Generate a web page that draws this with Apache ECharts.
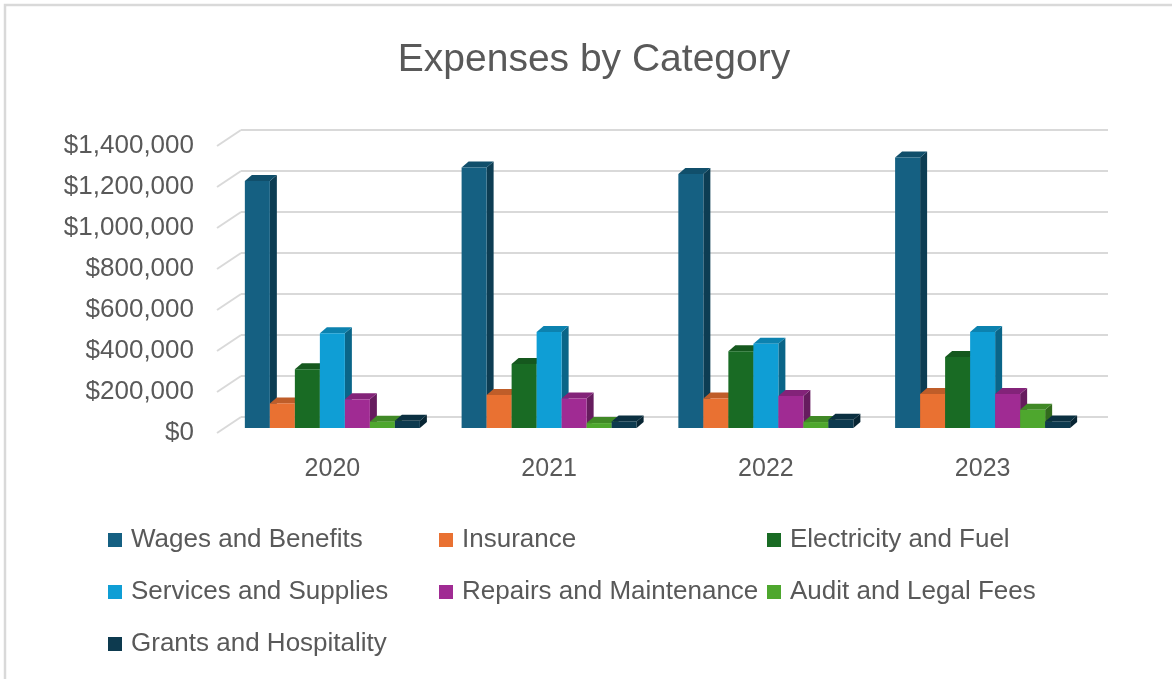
<!DOCTYPE html>
<html>
<head>
<meta charset="utf-8">
<script src="https://cdn.jsdelivr.net/npm/echarts@6/dist/echarts.min.js"></script>
<style>
  html, body { margin: 0; padding: 0; background: #ffffff; }
  #chart { width: 1172px; height: 679px; }
</style>
</head>
<body>
<div id="chart"></div>
<script>
// Yearly expenses by category
const years = ['2020', '2021', '2022', '2023'];
const seriesNames = [
  'Wages and Benefits', 'Insurance', 'Electricity and Fuel',
  'Services and Supplies', 'Repairs and Maintenance', 'Audit and Legal Fees',
  'Grants and Hospitality'
];
const wagesAndBenefits = [1205000, 1271000, 1239000, 1320000];
const insurance = [120000, 161000, 144000, 166000];
const electricityAndFuel = [286000, 312000, 374000, 346000];
const servicesAndSupplies = [462000, 468000, 411000, 468000];
const repairsAndMaintenance = [140000, 144000, 156000, 166000];
const auditAndLegalFees = [31000, 24000, 29000, 89000];
const grantsAndHospitality = [35000, 32000, 40000, 32000];
const yTicks = [0, 200000, 400000, 600000, 800000, 1000000, 1200000, 1400000];

const seriesValues = [
  wagesAndBenefits, insurance, electricityAndFuel, servicesAndSupplies,
  repairsAndMaintenance, auditAndLegalFees, grantsAndHospitality
];
const palette = ['#156082', '#E97132', '#196B24', '#0F9ED5', '#A02B93', '#4EA72E', '#0D3A4F'];

const TEXT = '#595959';
const GRID_LINE = '#d9d9d9';
const FONT = "'Liberation Sans', Arial, sans-serif";
const Y_MAX = 1400000, Y_STEP = 200000;

// oblique depth of the bar prisms and of the floor
const BAR_DX = 7, BAR_DY = -6;
const WALL_DX = 24, WALL_DY = -16;
const GROUP_RATIO = 175 / 216.7;

function shade(hex, f) {
  const n = parseInt(hex.slice(1), 16);
  const r = Math.round(((n >> 16) & 255) * f);
  const g = Math.round(((n >> 8) & 255) * f);
  const b = Math.round((n & 255) * f);
  return 'rgb(' + r + ',' + g + ',' + b + ')';
}

function money(v) {
  return '$' + Math.round(v).toString().replace(/\B(?=(\d{3})+(?!\d))/g, ',');
}

function prismRenderer(idx) {
  const color = palette[idx];
  const topColor = shade(color, 0.82);
  const sideColor = shade(color, 0.64);
  return function (params, api) {
    const cat = api.value(0);
    const val = api.value(1);
    const base = api.coord([cat, 0]);
    const top = api.coord([cat, val]);
    const band = api.size([1, 0])[0];
    const groupW = band * GROUP_RATIO;
    const barW = groupW / seriesNames.length;
    const x0 = base[0] - groupW / 2 + idx * barW;
    const x1 = x0 + barW;
    const yb = base[1], yt = top[1];
    return {
      type: 'group',
      children: [
        {
          type: 'polygon',
          shape: { points: [[x1, yt], [x1 + BAR_DX, yt + BAR_DY], [x1 + BAR_DX, yb + BAR_DY], [x1, yb]] },
          style: { fill: sideColor }
        },
        {
          type: 'polygon',
          shape: { points: [[x0, yt], [x0 + BAR_DX, yt + BAR_DY], [x1 + BAR_DX, yt + BAR_DY], [x1, yt]] },
          style: { fill: topColor }
        },
        {
          type: 'rect',
          shape: { x: x0, y: yt, width: barW, height: yb - yt },
          style: { fill: color }
        }
      ]
    };
  };
}

const barSeries = seriesNames.map(function (name, i) {
  return {
    type: 'custom',
    name: name,
    xAxisIndex: 0,
    yAxisIndex: 0,
    clip: false,
    itemStyle: { color: palette[i] },
    renderItem: prismRenderer(i),
    encode: { x: 0, y: 1 },
    data: seriesValues[i].map(function (v, j) { return [j, v]; }),
    z: 3
  };
});

// floor-to-wall connectors at each gridline, starting on the front plane
const connectorSeries = {
  type: 'custom',
  name: 'connectors',
  xAxisIndex: 2,
  yAxisIndex: 2,
  clip: false,
  silent: true,
  renderItem: function (params, api) {
    const p = api.coord([0, api.value(0)]);
    return {
      type: 'line',
      shape: { x1: p[0], y1: p[1], x2: p[0] + WALL_DX, y2: p[1] + WALL_DY },
      style: { stroke: GRID_LINE, lineWidth: 2 }
    };
  },
  data: yTicks.map(function (v) { return [v]; }),
  encode: { y: 0 },
  z: 1
};

const legendCommon = {
  orient: 'vertical',
  icon: 'rect',
  itemWidth: 14,
  itemHeight: 14,
  itemGap: 26,
  textStyle: { fontSize: 26, color: TEXT, fontFamily: FONT, lineHeight: 26, padding: [0, 0, 0, 4] }
};

const option = {
  backgroundColor: '#ffffff',
  animation: false,
  textStyle: { fontFamily: FONT },
  title: {
    text: 'Expenses by Category',
    left: 589,
    top: 36,
    textAlign: 'center',
    textStyle: { fontSize: 39, fontWeight: 'normal', color: TEXT, fontFamily: FONT }
  },
  legend: [
    Object.assign({ data: [seriesNames[0], seriesNames[3], seriesNames[6]], left: 103, top: 522 }, legendCommon),
    Object.assign({ data: [seriesNames[1], seriesNames[4]], left: 434, top: 522 }, legendCommon),
    Object.assign({ data: [seriesNames[2], seriesNames[5]], left: 762, top: 522 }, legendCommon)
  ],
  grid: [
    // plane through the bar fronts
    { left: 224, top: 141, width: 867, height: 287 },
    // back wall
    { left: 241, top: 130, width: 867, height: 287 },
    // front edge of the floor
    { left: 217, top: 146, width: 867, height: 287 }
  ],
  xAxis: [
    {
      gridIndex: 0, type: 'category', data: years,
      axisLine: { show: false }, axisTick: { show: false },
      axisLabel: { fontSize: 25, color: TEXT, margin: 29, fontFamily: FONT }
    },
    { gridIndex: 1, type: 'value', min: 0, max: 1, show: false },
    { gridIndex: 2, type: 'value', min: 0, max: 1, show: false }
  ],
  yAxis: [
    { gridIndex: 0, type: 'value', min: 0, max: Y_MAX, interval: Y_STEP, show: false },
    {
      gridIndex: 1, type: 'value', min: 0, max: Y_MAX, interval: Y_STEP,
      axisLine: { show: false }, axisTick: { show: false }, axisLabel: { show: false },
      splitLine: { show: true, lineStyle: { color: GRID_LINE, width: 2 } }
    },
    {
      gridIndex: 2, type: 'value', min: 0, max: Y_MAX, interval: Y_STEP,
      axisLine: { show: false }, axisTick: { show: false }, splitLine: { show: false },
      axisLabel: { fontSize: 26, color: TEXT, margin: 23, fontFamily: FONT, formatter: money }
    }
  ],
  graphic: [
    {
      type: 'rect',
      shape: { x: 5, y: 5, width: 1200, height: 700 },
      style: { fill: null, stroke: GRID_LINE, lineWidth: 2.5 },
      silent: true
    }
  ],
  series: barSeries.concat([connectorSeries])
};

const chart = echarts.init(document.getElementById('chart'), null, { renderer: 'canvas' });
chart.setOption(option);
</script>
</body>
</html>
